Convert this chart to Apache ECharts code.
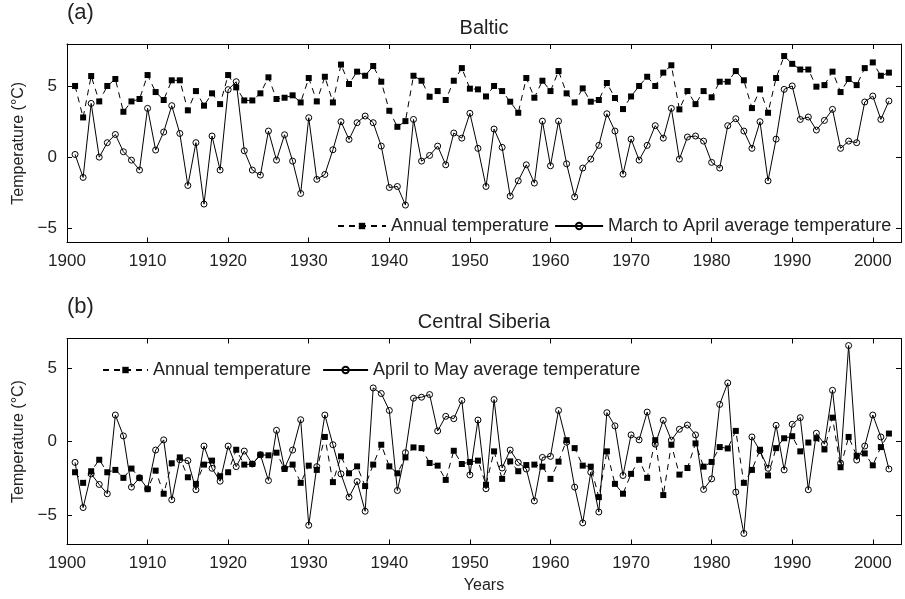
<!DOCTYPE html>
<html><head><meta charset="utf-8">
<script src="https://cdn.jsdelivr.net/npm/echarts@6/dist/echarts.min.js"></script>
<style>html,body{margin:0;padding:0;background:#fff}#c{width:905px;height:599px}</style>
</head><body><div id="c"></div>
<script>
const years = [1901,1902,1903,1904,1905,1906,1907,1908,1909,1910,1911,1912,1913,1914,1915,1916,1917,1918,1919,1920,
1921,1922,1923,1924,1925,1926,1927,1928,1929,1930,1931,1932,1933,1934,1935,1936,1937,1938,1939,1940,
1941,1942,1943,1944,1945,1946,1947,1948,1949,1950,1951,1952,1953,1954,1955,1956,1957,1958,1959,1960,
1961,1962,1963,1964,1965,1966,1967,1968,1969,1970,1971,1972,1973,1974,1975,1976,1977,1978,1979,1980,
1981,1982,1983,1984,1985,1986,1987,1988,1989,1990,1991,1992,1993,1994,1995,1996,1997,1998,1999,2000,2001,2002];

const balticAnnual = [5.04,2.82,5.74,3.95,5.04,5.53,3.22,3.95,4.12,5.81,4.61,4.05,5.44,5.44,3.32,4.68,3.65,4.52,3.76,5.81,
4.94,4.02,4.02,4.52,5.65,4.12,4.21,4.38,3.88,5.6,3.95,5.69,3.88,6.55,5.18,6.05,5.76,6.45,5.34,3.29,
2.16,2.56,5.76,5.41,4.28,4.68,4.05,5.41,6.3,4.85,4.8,4.3,5.04,4.68,3.93,3.15,5.6,4.21,5.41,4.68,
6.09,4.52,3.88,4.87,3.93,4.05,5.25,4.19,3.41,4.3,5.04,5.69,5.04,5.98,6.5,3.39,4.68,3.76,4.68,4.24,
5.34,5.34,6.09,5.44,3.48,4.8,3.15,5.6,7.15,6.6,6.2,6.2,4.99,5.1,6.05,4.61,5.53,5.1,6.3,6.7,5.76,5.98];

const balticMarApr = [0.21,-1.41,3.81,0.02,1.04,1.62,0.4,-0.19,-0.89,3.46,0.52,1.79,3.65,1.69,-1.98,1.04,-3.29,1.51,-0.89,4.78,
5.34,0.47,-0.89,-1.25,1.86,-0.19,1.6,-0.26,-2.54,2.8,-1.55,-1.2,0.54,2.52,1.27,2.45,2.92,2.45,0.8,-2.12,
-2.05,-3.36,2.68,-0.26,0.14,0.8,-0.52,1.72,1.36,3.11,0.64,-2.05,2.0,0.71,-2.73,-1.65,-0.52,-1.81,2.56,-0.59,
2.56,-0.45,-2.78,-0.75,-0.12,0.85,3.08,1.86,-1.18,1.29,-0.19,0.85,2.24,1.36,3.46,-0.12,1.44,1.51,1.15,-0.35,
-0.75,2.24,2.73,1.86,0.64,2.52,-1.65,1.29,4.8,5.04,2.68,2.85,1.93,2.61,3.39,0.64,1.15,1.04,3.91,4.33,2.68,3.98];

const siberiaAnnual = [-2.09,-2.81,-2.02,-1.24,-2.09,-1.93,-2.47,-1.84,-2.47,-3.24,-1.98,-3.55,-1.48,-1.08,-2.43,-2.88,-1.57,-1.3,-2.36,-2.09,
-0.56,-1.57,-1.53,-0.9,-0.94,-0.76,-1.87,-1.57,-2.81,-1.64,-1.93,0.31,-2.76,-1.01,-2.16,-1.69,-3.03,-1.57,-0.22,-1.69,
-2.16,-1.08,-0.4,-0.45,-1.46,-1.64,-2.61,-0.63,-1.53,-1.39,-1.3,-2.94,-0.67,-2.54,-1.35,-2.02,-1.6,-1.57,-1.71,-2.54,
-1.37,0.09,-0.45,-1.64,-1.71,-3.78,-0.67,-2.88,-3.55,-2.2,-1.24,-2.47,0.09,-3.64,-0.22,-2.25,-1.8,-0.13,-1.71,-1.39,
-0.38,-0.47,0.72,-2.81,-1.93,-0.56,-2.31,-0.45,0.22,0.36,-0.67,-0.07,0.22,-0.54,1.62,-1.75,0.31,-0.97,-0.81,-1.62,-0.38,0.54];

const siberiaAprMay = [-1.42,-4.49,-2.2,-2.92,-3.55,1.8,0.38,-3.1,-2.47,-3.21,-0.58,0.11,-3.96,-1.24,-1.3,-3.28,-0.31,-1.82,-2.7,-0.31,
-1.71,-0.65,-1.53,-0.9,-2.65,0.76,-1.82,-0.58,1.48,-5.69,-1.71,1.8,-0.22,-2.2,-3.78,-2.72,-4.74,3.64,3.26,2.11,
-3.33,-0.76,2.94,3.01,3.19,0.72,1.71,1.55,2.79,-2.27,1.46,-3.21,2.85,-1.8,-0.58,-1.42,-1.87,-4.04,-1.08,-1.01,
2.11,-0.05,-3.1,-5.53,-2.09,-4.79,1.96,1.06,-2.31,0.45,0.11,2.0,-0.18,1.44,0.09,0.83,1.12,0.45,-3.26,-2.54,
2.52,3.98,-3.44,-6.25,0.31,-0.63,-1.82,1.1,-1.93,1.17,1.62,-3.28,0.56,-0.18,3.48,-1.48,6.52,-1.26,-0.31,1.8,0.31,-1.87];

const xTicks = [1900,1910,1920,1930,1940,1950,1960,1970,1980,1990,2000];
const yTicks = [-5,0,5];

const FONT = 'Liberation Sans, Arial, Helvetica, sans-serif';
const pair = (arr) => arr.map((v,i)=>[years[i], v]);
const AXLINE = {show:true, onZero:false, lineStyle:{color:'#000', width:1}};

function xAx(gi, top){
  return {type:'value', gridIndex:gi, min:1900, max:2003.5, position: top ? 'top' : 'bottom',
    axisLine:AXLINE,
    axisTick:{inside:true, length:5, customValues:xTicks, lineStyle:{color:'#000'}},
    axisLabel:{show:!top, customValues:xTicks, color:'#222', fontSize:17, fontFamily:FONT, margin:10,
      formatter:(v)=>String(v)},
    splitLine:{show:false}};
}
function yAx(gi, mn, mx, right){
  const a = {type:'value', gridIndex:gi, min:mn, max:mx, position: right ? 'right' : 'left',
    axisLine:AXLINE,
    axisTick:{inside:true, length:5, customValues:yTicks, lineStyle:{color:'#000'}},
    axisLabel:{show:!right, customValues:yTicks, color:'#222', fontSize:17, fontFamily:FONT, margin:10,
      formatter:(v)=> v<0 ? '\u2212'+Math.abs(v) : String(v)},
    splitLine:{show:false}};
  if(!right){
    a.name = 'Temperature (\u00B0C)'; a.nameLocation = 'middle'; a.nameGap = 40; a.nameRotate = 90;
    a.nameTextStyle = {color:'#222', fontSize:16, fontFamily:FONT};
  }
  return a;
}
function annualSeries(name, gi, data){
  return {name:name, type:'line', xAxisIndex:gi, yAxisIndex:gi, data:pair(data),
    symbol:'rect', symbolSize:6, showAllSymbol:true,
    lineStyle:{color:'#000', width:1, type:[6,5]},
    itemStyle:{color:'#000', borderWidth:0}, z:3};
}
function seasonSeries(name, gi, data){
  return {name:name, type:'line', xAxisIndex:gi, yAxisIndex:gi, data:pair(data),
    symbol:'circle', symbolSize:6, showAllSymbol:true,
    lineStyle:{color:'#000', width:1},
    itemStyle:{color:'rgba(255,255,255,0)', borderColor:'#000', borderWidth:1}, z:2};
}

const option = {
  animation:false,
  backgroundColor:'#fff',
  grid:[{left:67, top:44, width:834, height:198.5},
        {left:67, top:338.5, width:834, height:206}],
  xAxis:[xAx(0,false), xAx(1,false), xAx(0,true), xAx(1,true)],
  yAxis:[yAx(0,-6,8,false), yAx(1,-7,7,false), yAx(0,-6,8,true), yAx(1,-7,7,true)],
  legend:[
    {left:332, top:212, itemWidth:48, itemHeight:8, itemGap:5,
     textStyle:{fontSize:18, color:'#222', fontFamily:FONT}, selectedMode:false,
     data:['Annual temperature','March to April average temperature']},
    {left:97, top:356, itemWidth:45, itemHeight:8, itemGap:6,
     textStyle:{fontSize:18, color:'#222', fontFamily:FONT}, selectedMode:false,
     data:['Annual temperature ','April to May average temperature']}
  ],
  graphic:[
    {type:'text', left:67, top:2, style:{text:'(a)', fontSize:22, fill:'#222', fontFamily:FONT}},
    {type:'text', x:484, y:28, style:{text:'Baltic', fontSize:20, fill:'#222', fontFamily:FONT, textAlign:'center', textVerticalAlign:'middle'}},
    {type:'text', left:67, top:296, style:{text:'(b)', fontSize:22, fill:'#222', fontFamily:FONT}},
    {type:'text', x:484, y:322, style:{text:'Central Siberia', fontSize:20, fill:'#222', fontFamily:FONT, textAlign:'center', textVerticalAlign:'middle'}},
    {type:'text', x:484, y:586, style:{text:'Years', fontSize:16, fill:'#222', fontFamily:FONT, textAlign:'center', textVerticalAlign:'middle'}}
  ],
  series:[
    annualSeries('Annual temperature', 0, balticAnnual),
    seasonSeries('March to April average temperature', 0, balticMarApr),
    annualSeries('Annual temperature ', 1, siberiaAnnual),
    seasonSeries('April to May average temperature', 1, siberiaAprMay)
  ]
};
const chart = echarts.init(document.getElementById('c'), null, {renderer:'canvas'});
chart.setOption(option);
</script></body></html>
